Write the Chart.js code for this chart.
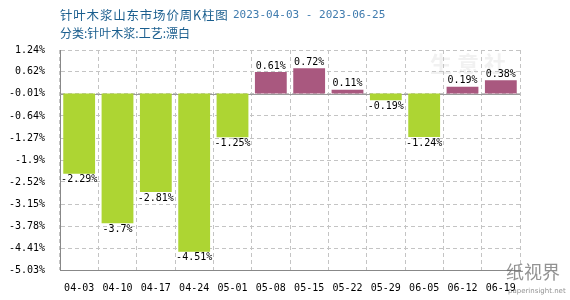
<!DOCTYPE html>
<html>
<head>
<meta charset="utf-8">
<script src="https://cdn.jsdelivr.net/npm/chart.js@4/dist/chart.umd.min.js"></script>
<style>
html,body{margin:0;padding:0;background:#fff;}
#wrap{width:570px;height:300px;position:relative;}
</style>
</head>
<body>
<div id="wrap"><canvas id="c" width="570" height="300"></canvas></div>
<script>
const categories = ["04-03","04-10","04-17","04-24","05-01","05-08","05-15","05-22","05-29","06-05","06-12","06-19"];
const changes = [-2.29, -3.7, -2.81, -4.51, -1.25, 0.61, 0.72, 0.11, -0.19, -1.24, 0.19, 0.38];
const yTickLabels = ["1.24%","0.62%","-0.01%","-0.64%","-1.27%","-1.9%","-2.52%","-3.15%","-3.78%","-4.41%","-5.03%"];
const titleMain = "针叶木浆山东市场价周K柱图";
const titleDate = "2023-04-03 - 2023-06-25";
const subtitle = "分类:针叶木浆:工艺:漂白";

const yTickValues = yTickLabels.map(s => parseFloat(s));
const GREEN = "#add533";
const PURPLE = "#a9587f";
const MONO = "'DejaVu Sans Mono', 'Liberation Mono', monospace";

const overlay = {
  id: 'overlay',
  beforeDatasetsDraw(chart) {
    const {ctx, chartArea, scales} = chart;
    const y0 = Math.round(scales.y.getPixelForValue(0)) + 0.5;
    ctx.save();
    ctx.strokeStyle = '#9a9a9a';
    ctx.lineWidth = 1;
    ctx.beginPath();
    ctx.moveTo(chartArea.left, y0);
    ctx.lineTo(chartArea.right, y0);
    ctx.stroke();
    // faint watermark
    ctx.fillStyle = 'rgba(200,200,200,0.25)';
    ctx.font = "bold 22px 'Noto Sans CJK SC'";
    ctx.textBaseline = 'middle';
    ctx.fillText('生 意 社', 430, 64);
    ctx.restore();
  },
  afterDatasetsDraw(chart) {
    const {ctx} = chart;
    const meta = chart.getDatasetMeta(0);
    ctx.save();
    ctx.font = "10px " + MONO;
    ctx.fillStyle = '#000';
    ctx.textAlign = 'center';
    meta.data.forEach((bar, i) => {
      const v = changes[i];
      const txt = v + '%';
      if (v >= 0) {
        ctx.textBaseline = 'bottom';
        ctx.fillText(txt, bar.x, bar.y - 1);
      } else {
        ctx.textBaseline = 'top';
        ctx.fillText(txt, bar.x, bar.y + 1);
      }
    });
    ctx.restore();
  },
  afterDraw(chart) {
    const {ctx} = chart;
    ctx.save();
    ctx.textBaseline = 'middle';
    ctx.textAlign = 'left';
    ctx.font = "12.5px 'Noto Sans CJK SC'";
    ctx.fillStyle = '#1a5e8e';
    try { ctx.letterSpacing = '0.8px'; } catch (e) {}
    ctx.fillText(titleMain, 60, 15);
    try { ctx.letterSpacing = '0px'; } catch (e) {}
    ctx.font = "11px " + MONO;
    ctx.fillStyle = '#3f7bae';
    ctx.fillText(titleDate, 233, 15);
    ctx.font = "12px 'Noto Sans CJK SC'";
    ctx.fillStyle = '#1a5e8e';
    ctx.fillText(subtitle, 60, 33);
    // bottom-right watermark
    ctx.fillStyle = 'rgba(110,110,110,0.75)';
    ctx.font = "18px 'Noto Sans CJK SC'";
    ctx.fillText('纸视界', 506, 272);
    ctx.font = "7px 'DejaVu Sans'";
    ctx.fillStyle = 'rgba(120,120,120,0.8)';
    ctx.fillText('paperinsight.net', 508, 291);
    ctx.restore();
  }
};

new Chart(document.getElementById('c'), {
  type: 'bar',
  data: {
    labels: categories,
    datasets: [{
      data: changes,
      backgroundColor: changes.map(v => v >= 0 ? PURPLE : GREEN),
      borderWidth: 0,
      barPercentage: 1,
      categoryPercentage: 0.83
    }]
  },
  options: {
    responsive: false,
    animation: false,
    devicePixelRatio: 1,
    layout: {padding: {top: 50, right: 50, left: 0, bottom: 0}},
    plugins: {legend: {display: false}, tooltip: {enabled: false}, title: {display: false}},
    scales: {
      x: {
        offset: true,
        grid: {offset: true, color: '#c4c4c4', drawTicks: false, lineWidth: 1},
        border: {display: true, color: '#888888', width: 1, dash: [4, 3]},
        ticks: {color: '#000', font: {family: MONO, size: 10}, padding: 12, maxRotation: 0, autoSkip: false},
        afterFit(s) { s.height = 30; }
      },
      y: {
        min: yTickValues[yTickValues.length - 1],
        max: yTickValues[0],
        afterBuildTicks(s) { s.ticks = yTickValues.map(v => ({value: v})); },
        grid: {color: '#c4c4c4', drawTicks: false, lineWidth: 1},
        border: {display: true, color: '#888888', width: 1, dash: [4, 3]},
        ticks: {
          color: '#000',
          font: {family: MONO, size: 10},
          padding: 15,
          callback: (v, i) => yTickLabels[yTickValues.indexOf(v)] ?? ''
        },
        afterFit(s) { s.width = 60; }
      }
    }
  },
  plugins: [overlay]
});
</script>
</body>
</html>
